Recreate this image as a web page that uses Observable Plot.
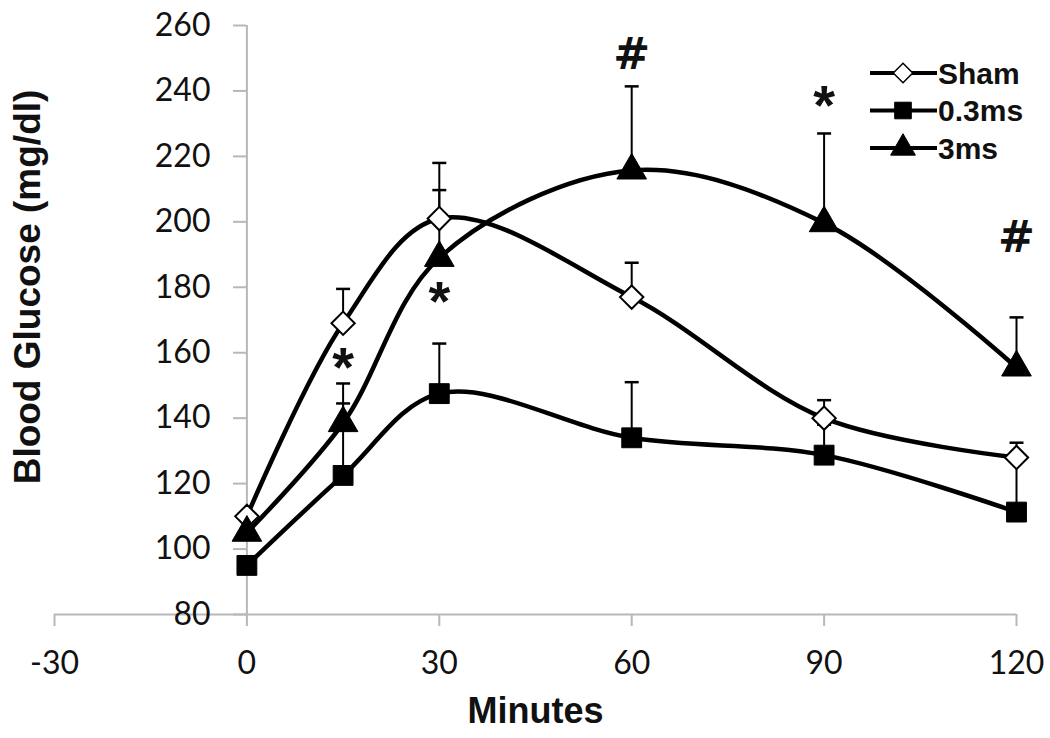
<!DOCTYPE html>
<html><head><meta charset="utf-8">
<script src="https://cdn.jsdelivr.net/npm/d3@7"></script>
<script src="https://cdn.jsdelivr.net/npm/@observablehq/plot@0.6"></script>
<style>
body{margin:0;background:#fff}
#wrap{position:relative;width:1050px;height:738px;background:#fff}
#legend{position:absolute;left:860px;top:50px}
</style>
</head><body><div id="wrap"></div>
<script>
// ---- data ----
const minutes = [0, 15, 30, 60, 90, 120];
const shamValues = [110, 169, 201, 177, 140, 128];
const shamUpper  = [null, 179.5, 218, 187.5, 145.5, 132.5];
const ms03Values = [95, 122.5, 147.5, 134, 128.7, 111.3];
const ms03Upper  = [null, 144.5, 162.8, 151, 138, 127];
const ms3Values  = [105, 138.5, 189, 215.7, 199.6, 155.5];
const ms3Upper   = [null, 150.6, 209.7, 241.4, 227, 170.8];
const seriesNames = ["Sham", "0.3ms", "3ms"];
const xTicks = [-30, 0, 30, 60, 90, 120];
const yTicks = [80, 100, 120, 140, 160, 180, 200, 220, 240, 260];
const annotX = [15, 30, 60, 90, 120];
const annotY = [159, 179, 251, 239, 195];
const annotText = ["*", "*", "#", "*", "#"];
const xDomain = [-30, 120];
const yDomain = [80, 260];

const seriesData = [
  {name: seriesNames[0], values: shamValues, upper: shamUpper, symbol: "diamond2", fill: "white", r: 10.5},
  {name: seriesNames[1], values: ms03Values, upper: ms03Upper, symbol: "square", fill: "black", r: 11.2},
  {name: seriesNames[2], values: ms3Values, upper: ms3Upper, symbol: "triangle", fill: "black", r: 11}
];
const rows = [];
seriesData.forEach(s => minutes.forEach((m, i) => rows.push({series: s.name, minute: m, value: s.values[i], upper: s.upper[i]})));
const errRows = rows.filter(d => d.upper != null);
const annots = annotX.map((x, i) => ({x, y: annotY[i], t: annotText[i]}));

const cap = {draw(ctx) { ctx.moveTo(-7, 0); ctx.lineTo(7, 0); }};
const gray = "#b8b8b8";
const boldFont = "Liberation Sans, Arial, sans-serif";

const chart = Plot.plot({
  width: 1050, height: 738,
  marginLeft: 246, marginRight: 34, marginTop: 25, marginBottom: 124,
  style: {fontFamily: "Lato, sans-serif", background: "white", overflow: "visible", color: "black"},
  x: {domain: xDomain, range: [54, 1016]},
  y: {domain: yDomain},
  marks: [
    Plot.ruleY([yDomain[0]], {x1: xDomain[0], x2: xDomain[1], stroke: gray, strokeWidth: 2}),
    Plot.ruleX([0], {y1: yDomain[0], y2: yDomain[1], stroke: gray, strokeWidth: 2}),
    Plot.axisX(xTicks, {anchor: "bottom", tickSize: 12, tickPadding: 25, fontSize: 32, stroke: gray, strokeWidth: 2, fill: "#111", label: null, tickFormat: d => String(d)}),
    Plot.axisY(yTicks, {anchor: "left", tickSize: 13, tickPadding: 23, fontSize: 32, stroke: gray, strokeWidth: 2, fill: "#111", label: null, tickFormat: d => String(d)}),
    Plot.text(["Blood Glucose (mg/dl)"], {frameAnchor: "left", textAnchor: "middle", rotate: -90, dx: -218, dy: -33, fontSize: 37, fontWeight: "bold", fontFamily: boldFont, fill: "#111"}),
    Plot.text(["Minutes"], {x: () => (xDomain[0] + xDomain[1]) / 2, frameAnchor: "bottom", dy: 108, fontSize: 36, fontWeight: "bold", fontFamily: boldFont, fill: "#111"}),
    Plot.ruleX(errRows, {x: "minute", y1: "value", y2: "upper", stroke: "black", strokeWidth: 2}),
    Plot.dot(errRows, {x: "minute", y: "upper", symbol: cap, r: 5, fill: "none", stroke: "black", strokeWidth: 2.5}),
    Plot.line(rows, {x: "minute", y: "value", z: "series", curve: "catmull-rom", stroke: "black", strokeWidth: 4.5}),
    ...seriesData.map(s => Plot.dot(rows.filter(d => d.series === s.name), {x: "minute", y: "value", symbol: s.symbol, r: s.r, fill: s.fill, stroke: "black", strokeWidth: s.fill === "white" ? 2 : 1})),
    Plot.text(annots.filter(d => d.t === "*"), {x: "x", y: "y", text: "t", dy: 12, fontSize: 56, fontWeight: "bold", fontFamily: boldFont, fill: "#111"}),
    Plot.text(annots.filter(d => d.t === "#"), {x: "x", y: "y", text: "t", fontSize: 44, fontWeight: "bold", fontFamily: "DejaVu Sans, sans-serif", fill: "#111"})
  ]
});
const wrap = document.getElementById("wrap");
wrap.appendChild(chart);

// ---- legend ----
const lg = d3.select(wrap).append("svg").attr("id", "legend").attr("width", 190).attr("height", 120);
const symMap = {"diamond2": d3.symbolDiamond2, "square": d3.symbolSquare, "triangle": d3.symbolTriangle};
seriesData.forEach((s, i) => {
  const yy = 23 + i * 37.5;
  lg.append("line").attr("x1", 10).attr("x2", 77).attr("y1", yy).attr("y2", yy).attr("stroke", "black").attr("stroke-width", 4);
  const size = Math.PI * s.r * s.r * 0.7;
  lg.append("path").attr("transform", `translate(43,${yy})`).attr("d", d3.symbol(symMap[s.symbol], size)())
    .attr("fill", s.fill).attr("stroke", "black").attr("stroke-width", s.fill === "white" ? 1.5 : 1);
  lg.append("text").attr("x", 78).attr("y", yy).attr("dy", "0.36em").attr("font-family", boldFont)
    .attr("font-weight", "bold").attr("font-size", 30).attr("fill", "#111").text(s.name);
});
</script></body></html>
